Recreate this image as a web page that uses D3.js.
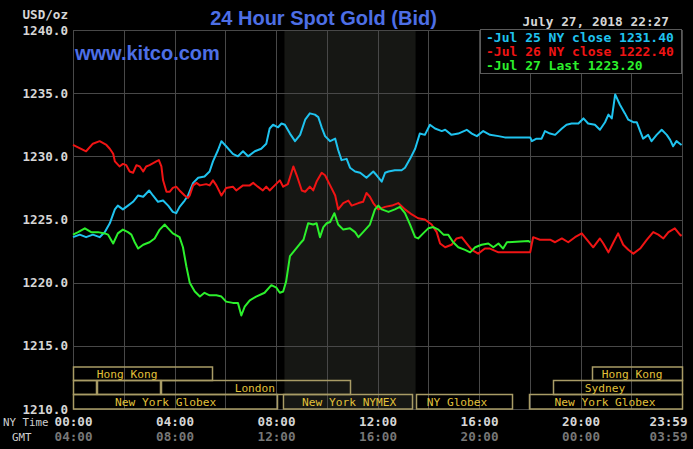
<!DOCTYPE html>
<html><head><meta charset="utf-8">
<script src="https://cdn.jsdelivr.net/npm/d3@7"></script>
<style>
html,body{margin:0;padding:0;background:#000;}
svg{display:block;}
</style></head><body>
<svg id="chart" width="693" height="449"></svg>
<script>
// ---------- DATA ----------
const yTicks = [1210, 1215, 1220, 1225, 1230, 1235, 1240];
const xTickMinutes = [0, 240, 480, 720, 960, 1200, 1440];
const nyTimeLabels = ["00:00", "04:00", "08:00", "12:00", "16:00", "20:00", "23:59"];
const gmtTimeLabels = ["04:00", "08:00", "12:00", "16:00", "20:00", "00:00", "03:59"];
const gridMinutes = [0, 120, 240, 360, 480, 600, 720, 840, 960, 1080, 1200, 1320, 1440];
const nymexSession = [500, 810]; // minutes, shaded pit session

// [minutes since 00:00 NY time, price]
const jul25 = [[0,1223.6],[16,1223.8],[31,1223.6],[47,1223.8],[63,1223.6],[75,1224.0],[87,1224.7],[99,1225.8],[106,1226.1],[118,1225.8],[130,1226.1],[142,1226.4],[154,1226.9],[166,1226.8],[180,1227.3],[189,1226.9],[201,1226.4],[213,1226.5],[225,1226.1],[236,1225.6],[244,1225.5],[252,1226.0],[264,1226.5],[272,1226.9],[284,1227.9],[296,1228.3],[311,1228.4],[323,1228.8],[331,1229.6],[343,1230.5],[351,1231.2],[362,1230.8],[378,1230.2],[390,1230.0],[402,1230.4],[414,1230.0],[430,1230.4],[445,1230.6],[457,1231.0],[465,1232.2],[473,1232.5],[485,1232.3],[493,1232.6],[501,1232.5],[513,1231.8],[525,1231.2],[537,1231.7],[549,1232.9],[560,1233.4],[572,1233.3],[580,1233.1],[588,1232.3],[596,1231.6],[608,1231.2],[620,1231.4],[627,1230.5],[635,1229.7],[647,1229.8],[655,1229.1],[667,1228.8],[679,1228.7],[694,1228.3],[710,1228.8],[718,1228.5],[730,1228.0],[738,1228.7],[746,1228.8],[761,1228.9],[777,1228.9],[785,1229.1],[797,1229.8],[809,1230.6],[820,1231.8],[832,1231.7],[844,1232.5],[856,1232.2],[872,1232.0],[880,1232.1],[895,1231.7],[911,1231.8],[931,1232.1],[943,1231.8],[955,1231.6],[970,1232.0],[986,1231.7],[1006,1231.6],[1021,1231.5],[1081,1231.5],[1085,1231.2],[1096,1231.4],[1108,1231.4],[1116,1232.0],[1128,1231.8],[1140,1231.7],[1156,1232.2],[1167,1232.5],[1179,1232.6],[1195,1232.6],[1207,1233.0],[1218,1232.6],[1234,1232.5],[1246,1232.1],[1258,1232.7],[1266,1233.3],[1274,1233.0],[1282,1234.9],[1293,1234.1],[1305,1233.4],[1313,1232.9],[1325,1232.7],[1333,1232.7],[1341,1232.0],[1348,1231.4],[1360,1231.7],[1368,1231.2],[1380,1231.7],[1392,1232.1],[1404,1231.7],[1412,1231.3],[1419,1230.8],[1427,1231.2],[1435,1231.0],[1439,1230.9]];

const jul26 = [[0,1230.9],[31,1230.4],[47,1231.0],[63,1231.2],[79,1230.9],[87,1230.6],[95,1230.2],[99,1229.6],[110,1229.2],[118,1229.4],[126,1229.3],[134,1228.8],[142,1228.7],[150,1229.3],[158,1229.2],[166,1228.8],[173,1229.2],[181,1229.3],[197,1229.6],[203,1229.7],[209,1229.2],[213,1228.1],[221,1227.2],[229,1227.2],[236,1227.5],[244,1227.6],[252,1227.3],[264,1226.9],[272,1226.7],[276,1226.9],[284,1227.7],[292,1227.9],[300,1227.7],[315,1227.8],[323,1227.7],[331,1228.1],[339,1227.7],[351,1226.9],[362,1227.5],[378,1227.6],[386,1227.3],[402,1227.7],[418,1227.7],[426,1227.9],[437,1227.6],[449,1227.3],[457,1227.6],[465,1227.3],[477,1227.7],[489,1228.1],[497,1227.6],[508,1227.8],[521,1229.2],[529,1228.5],[541,1227.3],[549,1227.2],[560,1227.6],[568,1227.3],[576,1228.0],[588,1228.7],[596,1228.5],[608,1227.7],[620,1226.9],[627,1225.8],[639,1226.3],[651,1226.5],[659,1226.1],[675,1226.3],[686,1226.4],[694,1227.1],[702,1226.8],[710,1226.3],[722,1225.8],[738,1226.0],[754,1226.1],[769,1226.3],[785,1225.8],[801,1225.4],[816,1225.1],[832,1225.0],[848,1224.6],[860,1224.0],[868,1223.1],[880,1222.8],[895,1223.0],[907,1223.5],[919,1223.6],[931,1223.1],[943,1222.6],[958,1222.3],[974,1222.7],[986,1222.7],[1006,1222.4],[1021,1222.4],[1081,1222.4],[1088,1223.6],[1104,1223.4],[1128,1223.4],[1140,1223.2],[1156,1223.5],[1171,1223.2],[1187,1223.6],[1203,1223.9],[1215,1223.4],[1230,1222.8],[1246,1223.5],[1254,1223.1],[1266,1222.4],[1278,1223.2],[1289,1223.9],[1301,1223.0],[1313,1222.6],[1325,1222.3],[1341,1222.7],[1357,1223.4],[1372,1224.0],[1384,1223.8],[1396,1223.5],[1408,1224.0],[1423,1224.3],[1435,1223.8],[1439,1223.7]];

const jul27 = [[0,1223.8],[12,1224.0],[28,1224.3],[43,1224.0],[59,1224.0],[75,1223.9],[83,1223.8],[95,1223.1],[106,1223.9],[118,1224.2],[130,1224.0],[138,1223.8],[146,1223.2],[154,1222.7],[166,1223.0],[181,1223.2],[193,1223.5],[205,1224.2],[217,1224.6],[225,1224.3],[236,1223.9],[252,1223.6],[260,1222.8],[268,1221.3],[276,1220.0],[288,1219.3],[300,1218.9],[311,1219.2],[323,1219.0],[339,1219.0],[351,1218.9],[362,1218.5],[378,1218.4],[390,1218.4],[398,1217.4],[406,1218.1],[418,1218.6],[433,1218.9],[453,1219.2],[469,1219.8],[481,1219.6],[489,1219.2],[497,1219.3],[504,1220.1],[513,1222.1],[525,1222.6],[537,1223.1],[545,1223.4],[556,1224.7],[568,1224.6],[576,1224.7],[584,1223.6],[592,1224.4],[600,1224.7],[608,1224.8],[618,1225.5],[627,1224.6],[639,1224.2],[655,1224.3],[667,1224.0],[675,1223.6],[686,1224.0],[702,1224.6],[714,1225.8],[722,1226.1],[730,1225.8],[746,1225.6],[761,1225.8],[773,1226.0],[785,1225.5],[797,1224.6],[809,1223.6],[816,1223.5],[828,1223.9],[840,1224.3],[852,1224.4],[864,1224.2],[876,1223.8],[887,1223.8],[899,1223.2],[911,1222.8],[927,1222.6],[939,1222.4],[951,1222.8],[966,1223.0],[982,1223.1],[994,1222.8],[1006,1223.1],[1017,1222.7],[1026,1223.2],[1077,1223.3],[1081,1223.2]];

const seriesColors = ["#1fc3ef", "#f01414", "#2cf02c"];
const legendTexts = ["-Jul 25 NY close 1231.40", "-Jul 26 NY close 1222.40", "-Jul 27 Last 1223.20"];

// trading sessions: row, start min, end min, label, label centre min
const sessions = [
  [0, 0, 330, "Hong Kong", 128],
  [0, 1227, 1440, "Hong Kong", 1322],
  [1, 0, 57, "", 0],
  [1, 57, 208, "", 0],
  [1, 208, 657, "London", 430],
  [1, 1135, 1440, "Sydney", 1258],
  [2, 0, 485, "New York Globex", 219],
  [2, 497, 805, "New York NYMEX", 653],
  [2, 812, 1040, "NY Globex", 908],
  [2, 1079, 1440, "New York Globex", 1258]
];

// ---------- DRAW ----------
(function () {
const svg = d3.select("#chart");
const W = 693, H = 449;
const pL = 73, pR = 682, pT = 30, pB = 409;
const mono = "'DejaVu Sans Mono', 'Liberation Mono', monospace";
const sans = "'Liberation Sans', Arial, sans-serif";

svg.append("rect").attr("width", W).attr("height", H).attr("fill", "#000");

const x = d3.scaleLinear().domain([0, 1440]).range([pL, pR]);
const y = d3.scaleLinear().domain([1210, 1240]).range([pB, pT]);
const px = v => Math.round(v) + 0.5;

// shaded NYMEX area
svg.append("rect")
  .attr("x", x(nymexSession[0])).attr("y", pT)
  .attr("width", x(nymexSession[1]) - x(nymexSession[0]))
  .attr("height", pB - pT)
  .attr("fill", "#161714");

// grid
const grid = svg.append("g").attr("stroke", "#484848").attr("stroke-width", 1).attr("shape-rendering", "crispEdges");
grid.selectAll("line.h").data(yTicks).join("line").attr("class", "h")
  .attr("x1", pL).attr("x2", pR + 1)
  .attr("y1", d => px(y(d))).attr("y2", d => px(y(d)));
grid.selectAll("line.v").data(gridMinutes).join("line").attr("class", "v")
  .attr("y1", pT).attr("y2", pB + 1)
  .attr("x1", d => px(x(d))).attr("x2", d => px(x(d)));

// sessions
const rowTop = [367, 380.5, 394.5], rowH = [13.5, 14, 14.5];
const sg = svg.append("g");
sg.selectAll("rect").data(sessions).join("rect")
  .attr("x", d => px(x(d[1])))
  .attr("y", d => rowTop[d[0]])
  .attr("width", d => Math.round(x(d[2])) - Math.round(x(d[1])) - (d[2] === 1440 ? 0 : 1))
  .attr("height", d => rowH[d[0]])
  .attr("fill", "none").attr("stroke", "#a99c66").attr("stroke-width", 1.5);
sg.selectAll("text").data(sessions.filter(d => d[3])).join("text")
  .attr("x", d => x(d[4]))
  .attr("y", d => rowTop[d[0]] + rowH[d[0]] / 2 + 4)
  .attr("text-anchor", "middle")
  .attr("font-family", mono).attr("font-size", 11.2)
  .attr("fill", "#e2c13a")
  .text(d => d[3]);

// lines
const line = d3.line().x(d => x(d[0])).y(d => y(d[1]));
[jul25, jul26, jul27].forEach((s, i) => {
  svg.append("path").datum(s)
    .attr("d", line)
    .attr("fill", "none")
    .attr("stroke", seriesColors[i])
    .attr("stroke-width", 2)
    .attr("stroke-linejoin", "round");
});

// y axis labels
const yAxis = d3.axisLeft(y).tickValues(yTicks).tickFormat(d => d.toFixed(1)).tickSize(0).tickPadding(5);
const ya = svg.append("g").attr("transform", `translate(${pL},0)`).call(yAxis);
ya.select(".domain").remove();
ya.selectAll("text").attr("font-family", mono).attr("font-size", 12.6).attr("font-weight", "bold").attr("fill", "#d6d6d6");

svg.append("text").attr("x", 68).attr("y", 19).attr("text-anchor", "end")
  .attr("font-family", mono).attr("font-size", 12.6).attr("font-weight", "bold").attr("fill", "#d6d6d6")
  .text("USD/oz");

// x axis labels (NY time & GMT)
const xAxisNY = d3.axisBottom(x).tickValues(xTickMinutes).tickFormat((d, i) => nyTimeLabels[i]).tickSize(0).tickPadding(5);
const xa = svg.append("g").attr("transform", `translate(0,${pB})`).call(xAxisNY);
xa.select(".domain").remove();
xa.selectAll("text").attr("font-family", mono).attr("font-size", 12.6).attr("font-weight", "bold").attr("fill", "#d6d6d6")
  .attr("y", 13).attr("dy", "0.35em");

const xAxisGMT = d3.axisBottom(x).tickValues(xTickMinutes).tickFormat((d, i) => gmtTimeLabels[i]).tickSize(0).tickPadding(20);
const xg = svg.append("g").attr("transform", `translate(0,${pB})`).call(xAxisGMT);
xg.select(".domain").remove();
xg.selectAll("text").attr("font-family", mono).attr("font-size", 12.6).attr("font-weight", "bold").attr("fill", "#777")
  .attr("y", 28).attr("dy", "0.35em");

[xa, xg].forEach(g => g.selectAll(".tick").filter(d => d === 1440).select("text")
  .attr("text-anchor", "end").attr("dx", 5));

svg.append("text").attr("x", 3).attr("y", 426)
  .attr("font-family", mono).attr("font-size", 10.8).attr("fill", "#cfcfcf").text("NY Time");
svg.append("text").attr("x", 12).attr("y", 441)
  .attr("font-family", mono).attr("font-size", 10.8).attr("fill", "#cfcfcf").text("GMT");

// title & watermark
svg.append("text").attr("x", 323.5).attr("y", 25).attr("text-anchor", "middle")
  .attr("font-family", sans).attr("font-size", 20).attr("font-weight", "bold").attr("fill", "#4d6fe6")
  .text("24 Hour Spot Gold (Bid)");
svg.append("text").attr("x", 75).attr("y", 60)
  .attr("font-family", sans).attr("font-size", 20).attr("font-weight", "bold").attr("fill", "#4d6fe6")
  .text("www.kitco.com");

// date
svg.append("text").attr("x", 669).attr("y", 26).attr("text-anchor", "end")
  .attr("font-family", mono).attr("font-size", 12.8).attr("font-weight", "bold").attr("fill", "#d6d6d6")
  .text("July 27, 2018 22:27");

// legend
const lg = svg.append("g");
lg.append("rect").attr("x", 480.5).attr("y", 29.5).attr("width", 201).attr("height", 44)
  .attr("fill", "#000").attr("stroke", "#5a5a5a").attr("stroke-width", 1);
lg.selectAll("text").data(legendTexts).join("text")
  .attr("x", 486).attr("y", (d, i) => 41.5 + i * 14)
  .attr("font-family", mono).attr("font-size", 13).attr("font-weight", "bold")
  .attr("fill", (d, i) => seriesColors[i])
  .text(d => d);
})();
</script>
</body></html>
